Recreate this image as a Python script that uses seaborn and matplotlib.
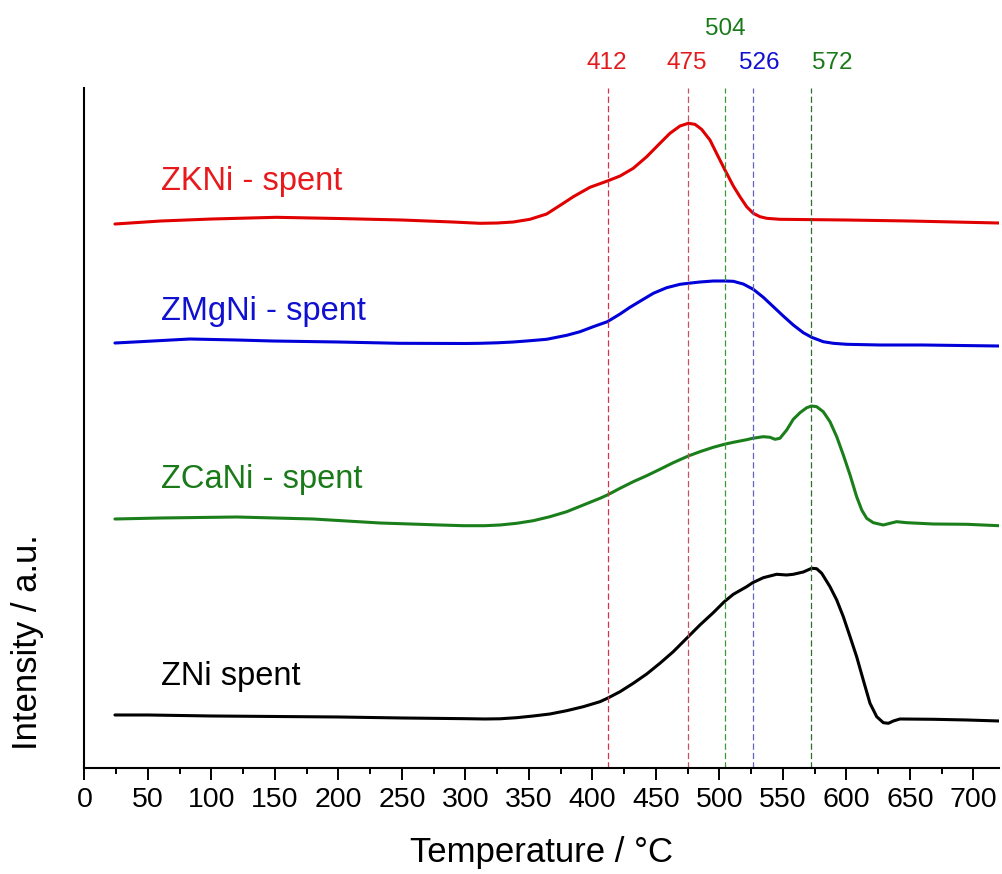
import matplotlib
matplotlib.use("Agg")
import matplotlib.pyplot as plt
import seaborn as sns
import pandas as pd
from matplotlib import font_manager

# ---- data (x: temperature in C, y: intensity, offset a.u.) ----
t_zni = [24, 50, 100, 150, 200, 250, 300, 315, 327.2, 340.3, 353.4, 366.5, 379.7, 392.8, 405.9,
         411.7, 421.7, 432.1, 442.7, 453.1, 463.6, 475.4, 484.6, 495.1, 503.8, 510.9, 521.4,
         526.1, 534.5, 545, 552.9, 558.1, 566, 572.6, 576.5, 580.5, 587, 592.3, 597.5, 602.8,
         608, 613.2, 618.5, 623.8, 629, 633, 636.9, 642.1, 668.3, 694.6, 720]
i_zni = [53, 53, 52, 51.5, 51, 50, 49.3, 49, 49.2, 50.3, 52, 54, 57.3, 61.3, 66.3,
         69.7, 76.3, 84.7, 94, 104.7, 116.3, 131.3, 143, 155.3, 166.3, 173.7, 181.3,
         185.3, 190.3, 193.7, 193, 193.7, 196, 199.7, 199.3, 194.7, 181.3, 168, 151.3, 131.3,
         111.3, 88, 64.7, 51.3, 45.3, 44.7, 47, 49, 48.7, 48, 47]

t_zcani = [24, 60, 120, 180, 232.7, 280, 298.3, 315, 327.2, 340.3, 353.4, 366.5, 379.7, 392.8,
           405.9, 411.7, 421.7, 432.1, 442.7, 453.1, 463.6, 475.4, 484.6, 495.1, 503.8, 510.9,
           521.4, 526.1, 534.5, 539.8, 543.7, 547.6, 552.9, 558.1, 563.4, 568.7, 572.6, 576.5,
           581.7, 587, 592.3, 597.5, 602.8, 608, 612, 615.9, 621.1, 629, 634.3, 639.5, 647.4,
           668.3, 694.6, 720]
i_zcani = [249, 250, 251, 249, 245, 243, 242.3, 242.3, 243, 244.7, 247.3, 251.3, 256.3, 263,
           269.7, 273, 279.7, 286.3, 292.3, 298.7, 305.3, 312, 316.3, 320.7, 323.7, 325.7,
           328.3, 329.7, 331.3, 330.7, 328.7, 329.7, 338, 348.7, 355.3, 360.3, 362, 361.3,
           356.3, 346.3, 331.3, 313, 293, 271.3, 258, 249.7, 245.3, 243, 244.7, 246.3, 245.3,
           244, 243.7, 242.3]

t_zmgni = [24, 43.7, 83, 120, 148, 200, 248, 300, 311.4, 325, 337.6, 350, 363.9, 379.7, 390.2,
           400.6, 411.7, 421.7, 429.5, 440, 447.9, 458.4, 468.9, 475.4, 484.6, 495.1, 504.3,
           510.9, 518.7, 526.6, 534.5, 542.4, 550.2, 558.1, 566, 572.6, 581.7, 589.6, 600.2,
           626.4, 660, 720]
i_zmgni = [425, 426.3, 429, 428, 427, 426, 424.7, 424.5, 424.7, 425.2, 426, 427.2, 428.7, 432.7,
           436.3, 441.3, 446.3, 454, 460.7, 468.7, 474.7, 480.3, 483.7, 484.7, 486, 487, 487,
           486.7, 484, 478.7, 470.7, 461.3, 452, 443, 435.3, 430.7, 426.3, 424.7, 423.7,
           423, 423, 422]

t_zkni = [24, 60, 100, 151, 200, 250, 290, 311.4, 325, 337.6, 350.7, 363.9, 377, 384.9, 398,
          411.7, 421.7, 432.1, 442.7, 453.1, 461, 468.9, 475.4, 480.7, 485.9, 492.5, 497.7,
          504.3, 510.9, 516.1, 521.4, 526.6, 531.9, 537.1, 547.6, 600, 650, 720]
i_zkni = [544, 547, 549, 550.7, 549.5, 548, 546, 544.7, 545, 546, 548.7, 554, 564.7, 571.3,
          580.7, 587, 592, 599.7, 611.3, 624.7, 634.7, 642, 644.7, 643.7, 638.7, 628, 614.7,
          598, 582, 571.3, 561.3, 554.7, 551.3, 549.7, 548.7, 548, 547, 545]

series_names = ["ZNi spent", "ZCaNi - spent", "ZMgNi - spent", "ZKNi - spent"]
series_t = [t_zni, t_zcani, t_zmgni, t_zkni]
series_i = [i_zni, i_zcani, i_zmgni, i_zkni]
line_colors = ["#000000", "#1a7f1a", "#0000d8", "#e00000"]
text_colors = ["#000000", "#1a7a1a", "#1010d0", "#e8191c"]
name_y = [83, 280, 448, 578]

peak_temps = [412, 475, 504, 526, 572]
peak_labels = ["412", "475", "504", "526", "572"]
peak_label_x = [411.3, 474.4, 504.7, 531, 589]
peak_label_y = [698.7, 698.7, 733, 698.7, 698.7]
peak_line_colors = ["#d83048", "#c85060", "#3a9a3a", "#6464c0", "#2e6e2e"]
peak_text_colors = ["#e31a1c", "#e31a1c", "#1a7a1a", "#1010d0", "#1a7a1a"]

# ---- style ----
sns.set_style("ticks")
plt.rcParams["font.family"] = ["Liberation Sans", "DejaVu Sans"]
plt.rcParams["text.color"] = "black"
plt.rcParams["axes.labelcolor"] = "black"
plt.rcParams["xtick.color"] = "black"
plt.rcParams["xtick.labelcolor"] = "black"

# a narrow face for the tick numbers, if one is installed
narrow = [f.fname for f in font_manager.fontManager.ttflist
          if "Narrow" in f.fname and "Liberation" in f.fname
          and "Bold" not in f.fname and "Italic" not in f.fname]
if narrow:
    tick_font = font_manager.FontProperties(fname=narrow[0], size=21.5)
else:
    tick_font = font_manager.FontProperties(family="Liberation Sans", size=20.5)

fig = plt.figure(figsize=(10.02, 8.74), dpi=100)
ax = fig.add_axes([0.0843, 0.1213, 0.9126, 0.778])

for name, t, i, c in zip(series_names, series_t, series_i, line_colors):
    df = pd.DataFrame({"Temperature": t, "Intensity": i})
    sns.lineplot(data=df, x="Temperature", y="Intensity", color=c, linewidth=2.2, ax=ax,
                 sort=False, estimator=None)

for name, y, c in zip(series_names, name_y, text_colors):
    ax.text(60.6, y, name, color=c, fontsize=23.5, va="baseline", ha="left")

for temp, c in zip(peak_temps, peak_line_colors):
    ax.axvline(temp, color=c, linewidth=0.9, linestyle=(0, (5, 2.5)))

for lab, x, y, c in zip(peak_labels, peak_label_x, peak_label_y, peak_text_colors):
    ax.text(x, y, lab, color=c, fontsize=17.5, ha="center", va="baseline", clip_on=False)

ax.set_xlim(0, 720)
ax.set_ylim(0, 680)
ax.set_xticks(range(0, 701, 50))
ax.set_xticks(range(25, 720, 50), minor=True)
ax.set_yticks([])
ax.tick_params(axis="x", which="major", length=8.4, width=1.4, pad=5.5, direction="out",
               color="black", labelcolor="black")
ax.tick_params(axis="x", which="minor", length=4.3, width=1.4, direction="out", color="black")
for lab in ax.get_xticklabels():
    lab.set_fontproperties(tick_font)

sns.despine(ax=ax, top=True, right=True)
for s in ["left", "bottom"]:
    ax.spines[s].set_linewidth(1.5)
    ax.spines[s].set_color("black")

ax.set_xlabel("Temperature / °C", fontsize=25, color="black")
ax.set_ylabel("Intensity / a.u.", fontsize=25, color="black")
ax.xaxis.set_label_coords(0.5, -0.1)
ax.yaxis.set_label_coords(-0.044, 0.185)

fig.savefig("out.png", dpi=100)
